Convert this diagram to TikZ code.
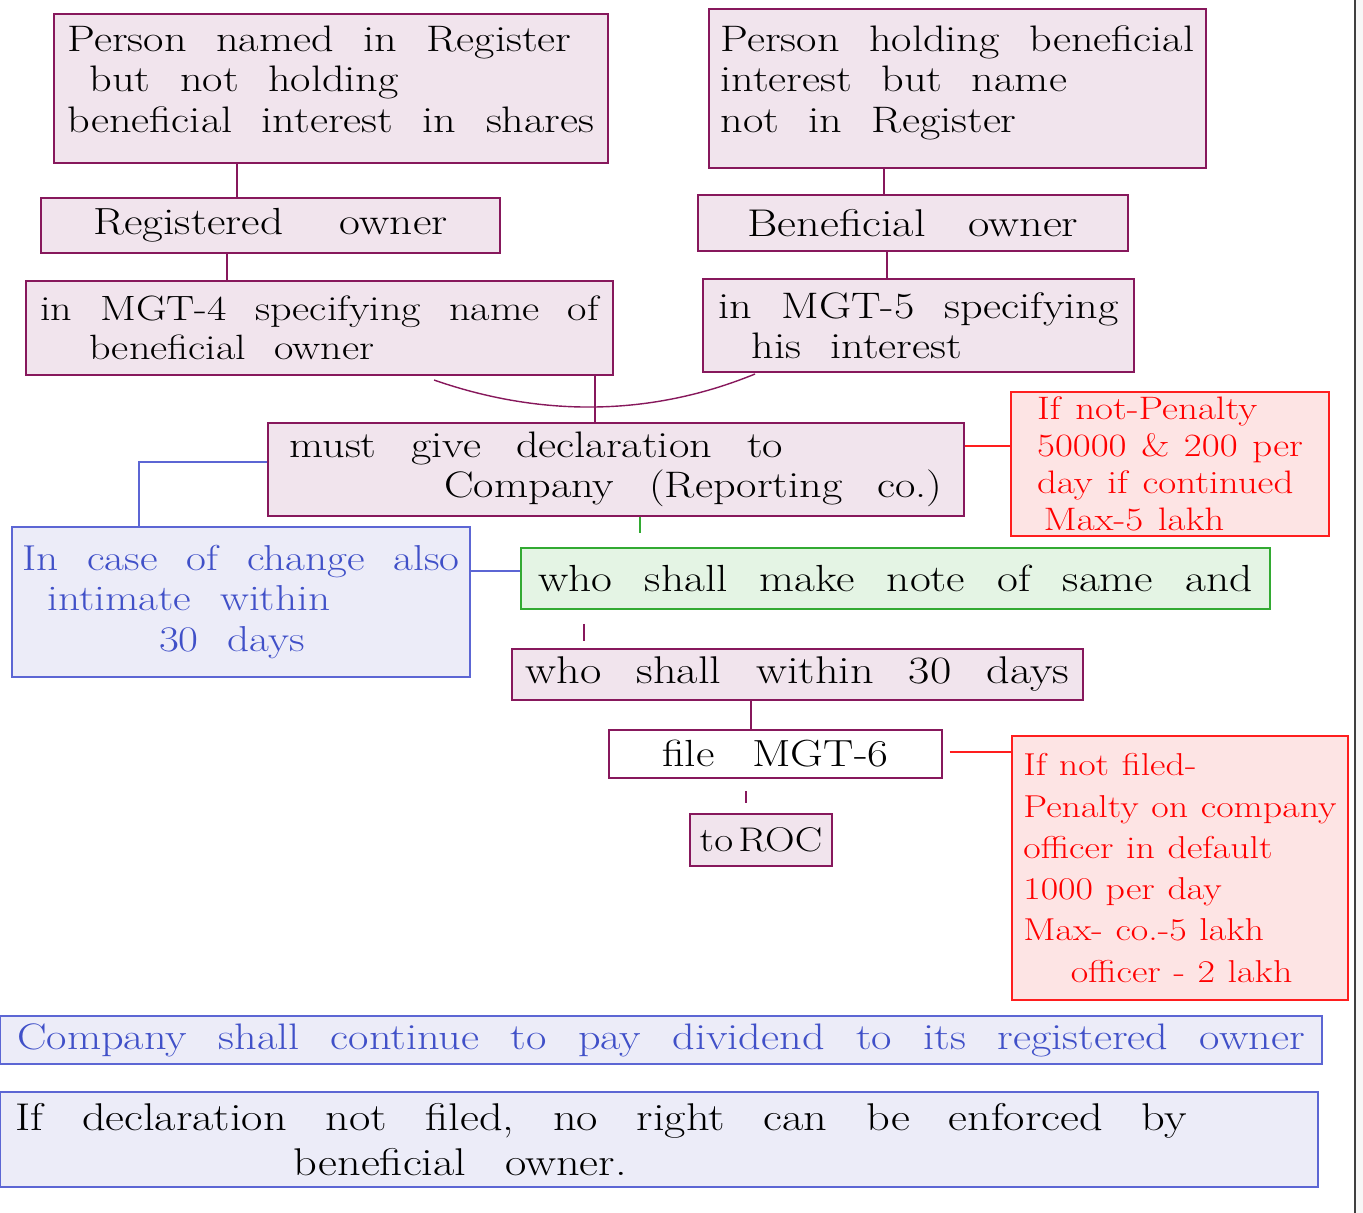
\documentclass[tikz,border=0pt]{standalone}
\usepackage{fontspec}
\setmainfont{Latin Modern Roman}[FakeStretch=1.2]
\usetikzlibrary{calc}
\definecolor{pborder}{RGB}{135,24,92}
\definecolor{pfill}{RGB}{241,228,237}
\definecolor{gborder}{RGB}{50,170,50}
\definecolor{gfill}{RGB}{228,244,228}
\definecolor{rborder}{RGB}{255,30,30}
\definecolor{rfill}{RGB}{253,228,228}
\definecolor{bborder}{RGB}{92,102,212}
\definecolor{bfill}{RGB}{236,236,248}
\definecolor{btext}{RGB}{64,80,200}
\definecolor{rtext}{RGB}{255,0,0}
\definecolor{edgegray}{RGB}{64,64,64}
\newcommand\handsz[3]{\fontsize{#1}{#2}\selectfont\spaceskip=#3 plus 0.1em\relax}
\newcommand\mkbox[7]{%
  \pgfmathsetmacro\bw{(#4-#2)*0.02}%
  \pgfmathsetmacro\bh{(#5-#3)*0.02}%
  \node[#6, minimum width=\bw cm, minimum height=\bh cm] (#1) at ({(#2+#4)/2},{(#3+#5)/2}) {#7};}
\tikzset{
  boxbase/.style={rectangle, draw, line width=0.8pt, inner sep=0pt, align=left, font=\handsz{21}{23}{0.8em}},
  pbox/.style={boxbase, draw=pborder, fill=pfill},
  wbox/.style={boxbase, draw=pborder, fill=white},
  gbox/.style={boxbase, draw=gborder, fill=gfill},
  rbox/.style={boxbase, draw=rborder, fill=rfill, text=rtext, font=\handsz{18.5}{21}{0.45em}},
  bbox/.style={boxbase, draw=bborder, fill=bfill},
  pline/.style={draw=pborder, line width=0.8pt},
  gline/.style={draw=gborder, line width=0.8pt},
  rline/.style={draw=rborder, line width=0.8pt},
  bline/.style={draw=bborder, line width=0.8pt},
}
\begin{document}
\begin{tikzpicture}[x=0.02cm, y=-0.02cm]
\useasboundingbox (0,0) rectangle (1363,1213);
\fill[gray!6] (1356,0) rectangle (1363,1213);
\draw[edgegray, line width=1.6pt] (1355,0) -- (1355,1213);

\mkbox{A}{54}{14}{608}{163}{pbox}{Person named in Register\\\hspace*{0.6em}but not holding\\beneficial interest in shares\\[-12pt]\mbox{}}
\mkbox{B}{41}{198}{500}{253}{pbox, font=\handsz{21.5}{23}{1.5em}}{Registered owner}
\mkbox{C}{26}{281}{613}{375}{pbox, font=\handsz{20}{22}{0.8em}}{in MGT-4 specifying name of\\\hspace*{1.4em}beneficial owner}
\mkbox{D}{709}{9}{1206}{168}{pbox}{Person holding beneficial\\interest but name\\not in Register\\[-12pt]\mbox{}}
\mkbox{E}{698}{195}{1128}{251}{pbox, font=\handsz{22}{23}{1.1em}}{Beneficial owner}
\mkbox{F}{703}{279}{1134}{372}{pbox}{in MGT-5 specifying\\\hspace*{0.9em}his interest\hspace*{4em}}
\mkbox{G}{268}{423}{964}{516}{pbox, font=\handsz{21}{23}{0.95em}}{must give declaration to\\\hspace*{4.2em}Company (Reporting co.)}
\mkbox{H}{1011}{392}{1329}{536}{rbox}{If not-Penalty\\50000 \& 200 per\\day if continued\\\hspace*{0.2em}Max-5 lakh}
\mkbox{I}{12}{527}{470}{677}{bbox, text=btext, font=\handsz{20.5}{23}{0.8em}}{In case of change also\\\hspace*{0.7em}intimate within\\\hspace*{3.8em}30 days}
\mkbox{J}{521}{548}{1270}{609}{gbox, font=\handsz{21.5}{23}{0.85em}}{who shall make note of same and}
\mkbox{K}{512}{649}{1083}{700}{pbox, font=\handsz{22}{23}{0.9em}}{who shall within 30 days}
\mkbox{L}{609}{730}{942}{778}{wbox, font=\handsz{21.5}{23}{1em}}{file MGT-6}
\mkbox{N}{690}{814}{832}{866}{pbox, font=\handsz{19.5}{20}{0.15em}}{to ROC}
\mkbox{M}{1012}{736}{1348}{1000}{rbox, font=\handsz{18}{23.5}{0.4em}}{If not filed-\\Penalty on company\\officer in default\\1000 per day\\Max- co.-5 lakh\\\hspace*{1.5em}officer - 2 lakh}
\mkbox{O}{0}{1016}{1322}{1064}{bbox, text=btext, font=\handsz{21}{23}{0.85em}}{Company shall continue to pay dividend to its registered owner}
\mkbox{P}{0}{1092}{1318}{1187}{bbox, font=\handsz{22}{26}{1em}}{If declaration not filed, no right can be enforced by\hspace*{3em}\\\hspace*{7.2em}beneficial owner.}

% connector x-positions
\coordinate (xa) at (237,0);
\coordinate (xb) at (227,0);
\coordinate (xd) at (884,0);
\coordinate (xe) at (887,0);
\coordinate (xc) at (595,0);
\coordinate (xg) at (640,0);
\coordinate (xj) at (584,0);
\coordinate (xk) at (751,0);
\coordinate (xl) at (746,0);
\coordinate (xi) at (139,0);
\coordinate (yh) at (0,446);
\coordinate (yg) at (0,462);
\coordinate (yi) at (0,571);
\coordinate (ym) at (0,752);

\draw[pline] (xa |- A.south) -- (xa |- B.north);
\draw[pline] (xb |- B.south) -- (xb |- C.north);
\draw[pline] (xd |- D.south) -- (xd |- E.north);
\draw[pline] (xe |- E.south) -- (xe |- F.north);
\coordinate (c1) at (434,380);
\coordinate (c2) at (755,374);
\draw[pline] (c1) .. controls (540,417) and (650,417) .. (c2);
\draw[pline] (xc |- C.south) -- (xc |- G.north);
\draw[rline] (G.east |- yh) -- (H.west |- yh);
\draw[bline] (G.west |- yg) -- (xi |- yg) -- (xi |- I.north);
\draw[bline] (I.east |- yi) -- (J.west |- yi);
\draw[gline, shorten >=8] (xg |- G.south) -- (xg |- J.north);
\draw[pline, shorten <=8, shorten >=4] (xj |- J.south) -- (xj |- K.north);
\draw[pline] (xk |- K.south) -- (xk |- L.north);
\draw[rline, shorten <=4] (L.east |- ym) -- (M.west |- ym);
\draw[pline, shorten <=7, shorten >=6] (xl |- L.south) -- (xl |- N.north);
\end{tikzpicture}
\end{document}
